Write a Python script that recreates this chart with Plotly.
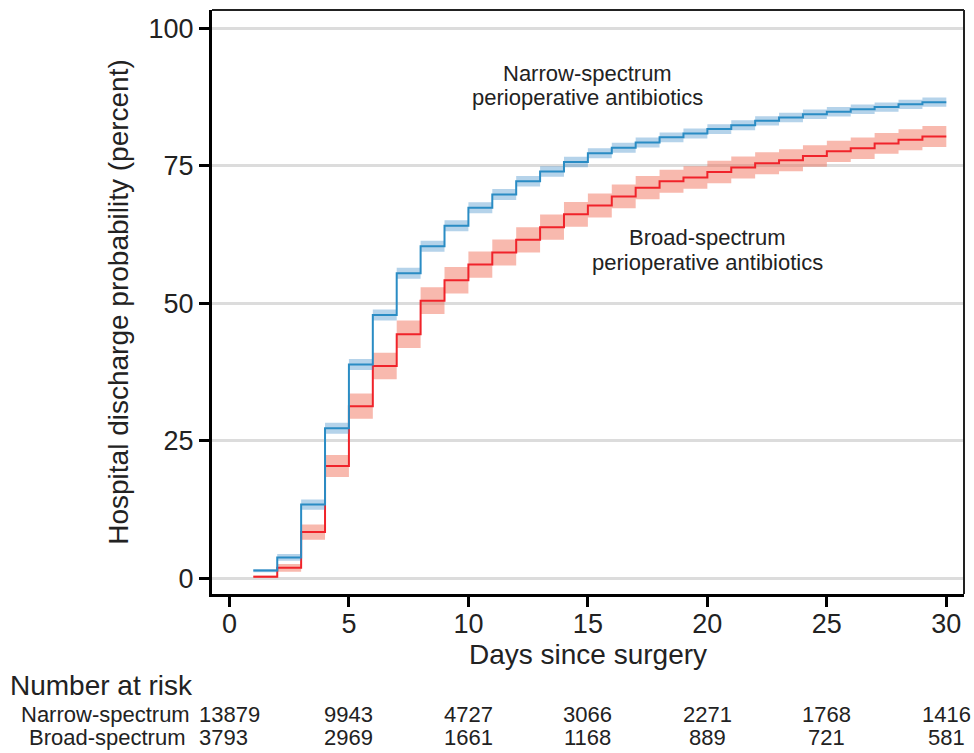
import plotly.graph_objects as go

# ---- data ----
days = list(range(1, 31))  # step start days 1..29, last step ends at day 30

narrow = [1.4, 3.8, 13.4, 27.3, 38.9, 47.9, 55.5, 60.4, 64.1, 67.4,
          69.8, 72.2, 74.0, 75.7, 77.3, 78.3, 79.25, 80.2, 80.9, 81.7,
          82.4, 83.2, 83.8, 84.4, 84.85, 85.3, 85.7, 86.2, 86.6]
narrow_ci = [0.3, 0.6, 0.95, 1.0, 1.0, 1.0, 1.0, 1.0, 1.0, 1.0,
             1.0, 0.95, 0.95, 0.95, 0.9, 0.9, 0.9, 0.9, 0.9, 0.9,
             0.9, 0.85, 0.85, 0.85, 0.85, 0.85, 0.85, 0.85, 0.85]

broad = [0.3, 1.9, 8.4, 20.4, 31.3, 38.6, 44.4, 50.5, 54.2, 57.05,
         59.25, 61.55, 63.85, 66.2, 67.8, 69.45, 71.05, 72.2, 72.9, 73.9,
         74.7, 75.5, 76.05, 76.8, 77.65, 78.2, 79.1, 79.75, 80.35]
broad_ci = [0.2, 0.7, 1.4, 2.0, 2.3, 2.4, 2.5, 2.45, 2.4, 2.4,
            2.35, 2.3, 2.3, 2.25, 2.2, 2.15, 2.1, 2.1, 2.05, 2.05,
            2.0, 2.0, 2.0, 1.95, 1.95, 1.95, 1.9, 1.9, 1.9]

x_ticks = [0, 5, 10, 15, 20, 25, 30]
y_ticks = [0, 25, 50, 75, 100]

risk_days = [0, 5, 10, 15, 20, 25, 30]
risk_narrow = [13879, 9943, 4727, 3066, 2271, 1768, 1416]
risk_broad = [3793, 2969, 1661, 1168, 889, 721, 581]

group_names = ["Narrow-spectrum", "Broad-spectrum"]
label_narrow = ["Narrow-spectrum", "perioperative antibiotics"]
label_broad = ["Broad-spectrum", "perioperative antibiotics"]

# ---- styling ----
FONT = "Liberation Sans, Arial, Helvetica, sans-serif"
TXT = "#222222"
BLUE = "#2a8cc4"
BLUE_BAND = "rgba(60,140,200,0.38)"
RED = "#f0232a"
RED_BAND = "rgba(240,100,75,0.45)"


def ext(v):
    return list(v) + [v[-1]]


fig = go.Figure()


def add_series(vals, ci, line_color, band_color, name):
    lo = [v - c for v, c in zip(vals, ci)]
    hi = [v + c for v, c in zip(vals, ci)]
    fig.add_trace(go.Scatter(x=days, y=ext(lo), mode="lines", line=dict(width=0, shape="hv"),
                             hoverinfo="skip", showlegend=False))
    fig.add_trace(go.Scatter(x=days, y=ext(hi), mode="lines", line=dict(width=0, shape="hv"),
                             fill="tonexty", fillcolor=band_color, hoverinfo="skip", showlegend=False))
    fig.add_trace(go.Scatter(x=days, y=ext(vals), mode="lines", name=name,
                             line=dict(color=line_color, width=2, shape="hv"), showlegend=False))


add_series(broad, broad_ci, RED, RED_BAND, group_names[1])
add_series(narrow, narrow_ci, BLUE, BLUE_BAND, group_names[0])

annotations = []
# curve labels
for i, t in enumerate(label_narrow):
    annotations.append(dict(x=15, y=[91.9, 87.5][i], xref="x", yref="y", text=t, showarrow=False,
                            xanchor="center", yanchor="middle",
                            font=dict(family=FONT, size=22, color=TXT)))
for i, t in enumerate(label_broad):
    annotations.append(dict(x=20, y=[61.9, 57.5][i], xref="x", yref="y", text=t, showarrow=False,
                            xanchor="center", yanchor="middle",
                            font=dict(family=FONT, size=22, color=TXT)))

# risk table
annotations.append(dict(x=-0.271, y=-0.1575, xref="paper", yref="paper", text="Number at risk",
                        showarrow=False, xanchor="left", yanchor="middle",
                        font=dict(family=FONT, size=28, color=TXT)))
annotations.append(dict(x=-0.026, y=-0.207, xref="paper", yref="paper", text=group_names[0],
                        showarrow=False, xanchor="right", yanchor="middle",
                        font=dict(family=FONT, size=22, color=TXT)))
annotations.append(dict(x=-0.032, y=-0.245, xref="paper", yref="paper", text=group_names[1],
                        showarrow=False, xanchor="right", yanchor="middle",
                        font=dict(family=FONT, size=22, color=TXT)))
for d, n in zip(risk_days, risk_narrow):
    annotations.append(dict(x=d, y=-0.207, xref="x", yref="paper", text=str(n), showarrow=False,
                            xanchor="center", yanchor="middle",
                            font=dict(family=FONT, size=22, color=TXT)))
for j, (d, n) in enumerate(zip(risk_days, risk_broad)):
    annotations.append(dict(x=d, y=-0.245, xref="x", yref="paper", text=str(n), showarrow=False,
                            xanchor="center", yanchor="middle", xshift=-6 if j == 0 else 0,
                            font=dict(family=FONT, size=22, color=TXT)))

fig.update_layout(
    width=974, height=753,
    margin=dict(l=212, r=10, t=10, b=159, autoexpand=False),
    paper_bgcolor="white", plot_bgcolor="white",
    font=dict(family=FONT, color=TXT),
    annotations=annotations,
    shapes=[
        dict(type="line", xref="paper", yref="paper", x0=0, x1=1, y0=1, y1=1,
             line=dict(color="#222222", width=2)),
        dict(type="line", xref="paper", yref="paper", x0=1, x1=1, y0=0, y1=1,
             line=dict(color="#222222", width=2)),
    ],
    xaxis=dict(range=[-0.73, 30.74], tickvals=x_ticks, ticks="outside", ticklen=10, tickwidth=2.5,
               tickcolor="black", showline=True, linecolor="black", linewidth=3,
               showgrid=False, zeroline=False, ticklabelstandoff=-6,
               tickfont=dict(family=FONT, size=27, color=TXT),
               title=dict(text="Days since surgery", font=dict(family=FONT, size=28, color=TXT),
                          standoff=2)),
    yaxis=dict(range=[-2.86, 103.36], tickvals=y_ticks, ticks="outside", ticklen=10, tickwidth=2.5,
               tickcolor="black", showline=True, linecolor="black", linewidth=3,
               showgrid=True, gridcolor="#dcdcdc", gridwidth=3, zeroline=False,
               tickfont=dict(family=FONT, size=27, color=TXT),
               title=dict(text="Hospital discharge probability (percent)",
                          font=dict(family=FONT, size=28, color=TXT), standoff=12)),
)

fig.write_html("out.html", config={"displayModeBar": False},
               post_script="document.body.style.margin='0';")
